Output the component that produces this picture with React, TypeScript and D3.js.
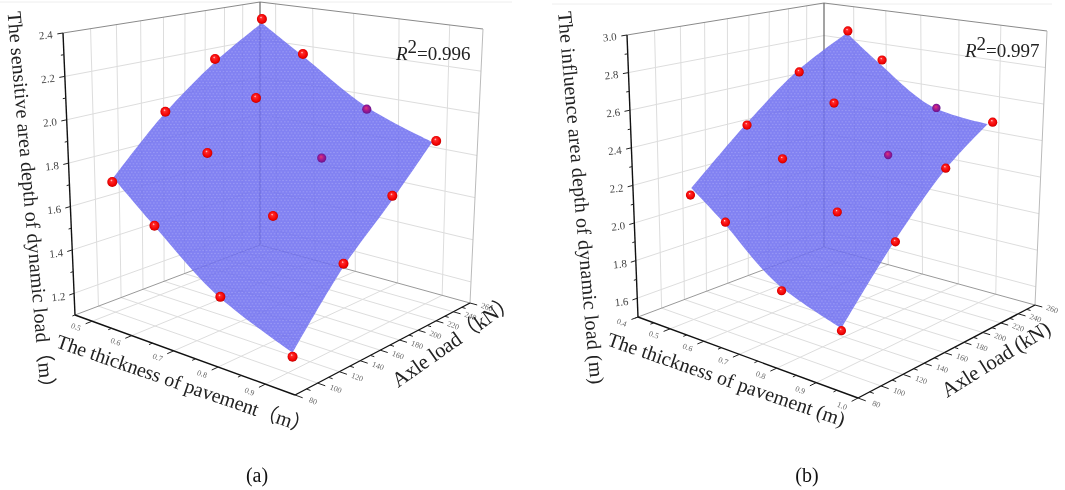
import React from 'react';
import * as d3 from 'd3';

type P = [number, number];

// ---- data ----
const thicknessValues = [0.5, 0.5, 0.5, 0.5, 0.6, 0.6, 0.6, 0.6, 0.75, 0.75, 0.75, 0.75, 0.9, 0.9, 0.9, 0.9];
const axleValuesA = [101, 147, 194, 244, 103, 150, 197, 248, 103, 151, 199, 249, 104, 150, 198, 247];
const depthValuesA = [1.702, 1.968, 2.174, 2.333, 1.549, 1.81, 2.012, 2.176, 1.32, 1.59, 1.782, 1.95, 1.159, 1.464, 1.681, 1.861];
const axleValuesB = [101, 150, 200, 253, 102, 152, 202, 255, 102, 152, 202, 256, 102, 150, 199, 252];
const depthValuesB = [2.158, 2.452, 2.681, 2.861, 2.065, 2.307, 2.536, 2.715, 1.799, 2.096, 2.309, 2.487, 1.696, 2.028, 2.313, 2.472];
const pointsUnderSurface = [10, 11];

const surfaceThickness = [0.5, 0.5, 0.5, 0.5, 0.6, 0.75, 0.9, 0.9, 0.9, 0.9, 0.75, 0.6];
const surfaceAxleA = [102, 145, 194, 244, 248, 249, 242, 198, 150, 104, 99, 101];
const surfaceDepthA = [1.719, 1.955, 2.159, 2.312, 2.166, 1.96, 1.863, 1.662, 1.45, 1.176, 1.342, 1.565];
const surfaceAxleB = [102, 150, 198, 252, 250, 250, 246, 198, 150, 102, 97, 99];
const surfaceDepthB = [2.193, 2.463, 2.689, 2.85, 2.709, 2.505, 2.471, 2.304, 2.038, 1.708, 1.855, 2.082];

const thickTicksA = [0.5, 0.6, 0.7, 0.8, 0.9];
const thickMinorA = [0.55, 0.65, 0.75, 0.85];
const thickTicksB = [0.4, 0.5, 0.6, 0.7, 0.8, 0.9, 1.0];
const thickMinorB = [0.45, 0.55, 0.65, 0.75, 0.85, 0.95];
const axleTicks = [80, 100, 120, 140, 160, 180, 200, 220, 240, 260];
const axleMinor = [90, 110, 130, 150, 170, 190, 210, 230, 250];
const depthTicksA = [1.2, 1.4, 1.6, 1.8, 2.0, 2.2, 2.4];
const depthMinorA = [1.1, 1.3, 1.5, 1.7, 1.9, 2.1, 2.3];
const depthTicksB = [1.6, 1.8, 2.0, 2.2, 2.4, 2.6, 2.8, 3.0];
const depthMinorB = [1.5, 1.7, 1.9, 2.1, 2.3, 2.5, 2.7, 2.9];

const SERIF = '"Liberation Serif","Noto Sans CJK SC",serif';

function homog(p00: P, p10: P, p11: P, p01: P) {
  const dx1 = p10[0] - p11[0], dx2 = p01[0] - p11[0], sx = p00[0] - p10[0] + p11[0] - p01[0];
  const dy1 = p10[1] - p11[1], dy2 = p01[1] - p11[1], sy = p00[1] - p10[1] + p11[1] - p01[1];
  const den = dx1 * dy2 - dx2 * dy1;
  const g = (sx * dy2 - dx2 * sy) / den, h = (dx1 * sy - sx * dy1) / den;
  const a = p10[0] - p00[0] + g * p10[0], b = p01[0] - p00[0] + h * p01[0], c = p00[0];
  const d = p10[1] - p00[1] + g * p10[1], e = p01[1] - p00[1] + h * p01[1], f = p00[1];
  return (u: number, v: number): P => {
    const w = g * u + h * v + 1;
    return [(a * u + b * v + c) / w, (d * u + e * v + f) / w];
  };
}

const Seg = ({ a, b, stroke, w = 1 }: { a: P; b: P; stroke: string; w?: number }) => (
  <line x1={a[0]} y1={a[1]} x2={b[0]} y2={b[1]} stroke={stroke} strokeWidth={w} />
);

interface Title { text: string; x: number; y: number; len: number; size: number; rot: number }
interface PanelProps {
  floor: P[]; ceil: P[];
  thickDomain: number[]; depthDomain: number[];
  thickTicks: number[]; thickMinor: number[];
  depthTicks: number[]; depthMinor: number[];
  axle: number[]; depth: number[];
  sAxle: number[]; sDepth: number[];
  r: number;
  titles: Title[];
  r2: { text: string; x: number; y: number };
  tag: { text: string; x: number };
}

function Panel(p: PanelProps) {
  const F = homog(p.floor[0], p.floor[1], p.floor[2], p.floor[3]);
  const C = homog(p.ceil[0], p.ceil[1], p.ceil[2], p.ceil[3]);
  const ts = d3.scaleLinear().domain(p.thickDomain).range([0, 1]);
  const as = d3.scaleLinear().domain([80, 260]).range([0, 1]);
  const zs = d3.scaleLinear().domain(p.depthDomain).range([0, 1]);
  const fn = (u: number, v: number, w: number): P => {
    const A = F(u, v), B = C(u, v);
    return [A[0] + (B[0] - A[0]) * w, A[1] + (B[1] - A[1]) * w];
  };
  const grid = '#dddddd';
  const pts: P[] = p.axle.map((a, i) => fn(ts(thicknessValues[i]), as(a), zs(p.depth[i])));
  const out: P[] = p.sAxle.map((a, i) => fn(ts(surfaceThickness[i]), as(a), zs(p.sDepth[i])));
  const curve = d3.line<P>().curve(d3.curveCatmullRom.alpha(0.5));
  const edges = [[0, 1, 2, 3], [3, 4, 5, 6], [6, 7, 8, 9], [9, 10, 11, 0]];
  const surface = edges.map((e, i) => {
    const s = curve(e.map(k => out[k])) as string;
    return i === 0 ? s : s.replace(/^M/, 'L');
  }).join('') + 'Z';
  return (
    <g>
      {/* wall and floor grids */}
      {axleTicks.slice(1, -1).map(a => (
        <g key={'ag' + a}>
          <Seg a={fn(0, as(a), 0)} b={fn(0, as(a), 1)} stroke={grid} />
          <Seg a={fn(0, as(a), 0)} b={fn(1, as(a), 0)} stroke={grid} />
        </g>
      ))}
      {p.thickTicks.filter(t => ts(t) > 0.01 && ts(t) < 0.99).map(t => (
        <g key={'tg' + t}>
          <Seg a={fn(ts(t), 1, 0)} b={fn(ts(t), 1, 1)} stroke={grid} />
          <Seg a={fn(ts(t), 0, 0)} b={fn(ts(t), 1, 0)} stroke={grid} />
        </g>
      ))}
      {p.depthTicks.filter(z => zs(z) < 0.99).map(z => (
        <g key={'zg' + z}>
          <Seg a={fn(0, 0, zs(z))} b={fn(0, 1, zs(z))} stroke={grid} />
          <Seg a={fn(0, 1, zs(z))} b={fn(1, 1, zs(z))} stroke={grid} />
        </g>
      ))}
      {/* frame */}
      <Seg a={fn(0, 0, 1)} b={fn(0, 1, 1)} stroke="#8a8a8a" />
      <Seg a={fn(0, 1, 1)} b={fn(1, 1, 1)} stroke="#8a8a8a" />
      <Seg a={fn(0, 1, 0)} b={fn(0, 1, 1)} stroke="#666" w={1.2} />
      <Seg a={fn(0, 0, 0)} b={fn(0, 1, 0)} stroke="#999" />
      <Seg a={fn(0, 1, 0)} b={fn(1, 1, 0)} stroke="#999" />
      <Seg a={fn(1, 1, 0)} b={fn(1, 1, 1)} stroke="#bbb" />

      {/* surface */}
      <path d={surface} fill="#6c6cf0" fillOpacity={0.86} />
      <path d={surface} fill="url(#stipple)" />
      {pointsUnderSurface.map(i => (
        <circle key={'hh' + i} cx={pts[i][0]} cy={pts[i][1]} r={p.r - 0.4} fill="url(#ballUnder)" />
      ))}

      {/* axes */}
      <Seg a={fn(0, 0, 0)} b={fn(0, 0, 1)} stroke="#111" w={1.4} />
      <Seg a={fn(0, 0, 0)} b={fn(1, 0, 0)} stroke="#111" w={1.4} />
      <Seg a={fn(1, 0, 0)} b={fn(1, 1, 0)} stroke="#111" w={1.4} />
      {p.depthTicks.map(z => (
        <g key={'zt' + z}>
          <Seg a={fn(0, 0, zs(z))} b={fn(0, -0.022, zs(z))} stroke="#222" />
          <text x={fn(0, -0.04, zs(z))[0]} y={fn(0, -0.04, zs(z))[1] + 3.5} fontSize={11} fontFamily={SERIF} fill="#444" textAnchor="end"
            transform={`rotate(-6 ${fn(0, -0.04, zs(z))[0]} ${fn(0, -0.04, zs(z))[1]})`}>{z.toFixed(1)}</text>
        </g>
      ))}
      {p.depthMinor.map(z => <Seg key={'zm' + z} a={fn(0, 0, zs(z))} b={fn(0, -0.012, zs(z))} stroke="#222" />)}
      {p.thickTicks.map(t => {
        const l = fn(ts(t), -0.075, 0);
        return (
          <g key={'tt' + t}>
            <Seg a={fn(ts(t), 0, 0)} b={fn(ts(t), -0.03, 0)} stroke="#222" />
            <text x={l[0]} y={l[1] + 2} fontSize={8} fontFamily={SERIF} fill="#666" textAnchor="middle"
              transform={`rotate(20 ${l[0]} ${l[1]})`}>{t.toFixed(1)}</text>
          </g>
        );
      })}
      {p.thickMinor.map(t => <Seg key={'tm' + t} a={fn(ts(t), 0, 0)} b={fn(ts(t), -0.016, 0)} stroke="#222" />)}
      {axleTicks.map(a => {
        const l = fn(1.07, as(a), 0);
        return (
          <g key={'at' + a}>
            <Seg a={fn(1, as(a), 0)} b={fn(1.03, as(a), 0)} stroke="#222" />
            <text x={l[0]} y={l[1] + 2} fontSize={8} fontFamily={SERIF} fill="#666" textAnchor="middle"
              transform={`rotate(20 ${l[0]} ${l[1]})`}>{a}</text>
          </g>
        );
      })}
      {axleMinor.map(a => <Seg key={'am' + a} a={fn(1, as(a), 0)} b={fn(1.016, as(a), 0)} stroke="#222" />)}

      {/* points */}
      {pts.map((q, i) => pointsUnderSurface.includes(i) ? null : (
        <circle key={'p' + i} cx={q[0]} cy={q[1]} r={p.r} fill="url(#ball)" />
      ))}

      {/* titles */}
      {p.titles.map(t => (
        <text key={t.text} x={t.x} y={t.y} fontSize={t.size} fontFamily={SERIF} fill="#222"
          textLength={t.len} lengthAdjust="spacing" transform={`rotate(${t.rot} ${t.x} ${t.y})`}>{t.text}</text>
      ))}
      <text x={p.r2.x} y={p.r2.y} fontSize={19} fontFamily={SERIF} fill="#222">
        <tspan fontStyle="italic">R</tspan>
        <tspan dy={-7}>2</tspan>
        <tspan dy={7}>{p.r2.text}</tspan>
      </text>
      <text x={p.tag.x} y={482} fontSize={20} fontFamily={SERIF} fill="#111" textAnchor="middle">{p.tag.text}</text>
    </g>
  );
}

export default function App() {
  return (
    <svg width={1065} height={490} style={{ position: 'absolute', left: 0, top: 0, background: '#fff', filter: 'blur(0.4px)' }}>
      <defs>
        <radialGradient id="ball" cx="0.5" cy="0.5" r="0.55" fx="0.4" fy="0.32">
          <stop offset="0" stopColor="#ffe0e0" />
          <stop offset="0.22" stopColor="#ff2a2a" />
          <stop offset="0.75" stopColor="#f00000" />
          <stop offset="1" stopColor="#a80000" />
        </radialGradient>
        <radialGradient id="ballUnder" cx="0.5" cy="0.5" r="0.55" fx="0.42" fy="0.35">
          <stop offset="0" stopColor="#e03a70" />
          <stop offset="0.4" stopColor="#b01c90" />
          <stop offset="1" stopColor="#5c1490" />
        </radialGradient>
        <pattern id="stipple" width={3.4} height={5.6} patternUnits="userSpaceOnUse">
          <circle cx={0.85} cy={1.4} r={0.65} fill="#fff" fillOpacity={0.28} />
          <circle cx={2.55} cy={4.2} r={0.65} fill="#fff" fillOpacity={0.28} />
        </pattern>
      </defs>
      <line x1={0} y1={2} x2={512} y2={2} stroke="#eeeeee" />
      <line x1={552} y1={4} x2={1052} y2={4} stroke="#eeeeee" />
      <Panel
        floor={[[75, 315], [295, 395], [470, 303], [260, 245]]}
        ceil={[[63, 33], [297, 85], [483, 29], [260, 2]]}
        thickDomain={[0.455, 0.96]} depthDomain={[1.1, 2.4]}
        thickTicks={thickTicksA} thickMinor={thickMinorA}
        depthTicks={depthTicksA} depthMinor={depthMinorA}
        axle={axleValuesA} depth={depthValuesA}
        sAxle={surfaceAxleA} sDepth={surfaceDepthA}
        r={5}
        titles={[
          { text: 'The sensitive area depth of dynamic load（m）', x: 7.5, y: 12, len: 388, size: 20, rot: 85 },
          { text: 'The thickness of pavement（m）', x: 55, y: 347, len: 268, size: 20, rot: 19 },
          { text: 'Axle load（kN）', x: 398, y: 388, len: 146, size: 21, rot: -35 },
        ]}
        r2={{ text: '=0.996', x: 396, y: 60 }}
        tag={{ text: '(a)', x: 257 }}
      />
      <Panel
        floor={[[638, 317], [858, 398], [1035, 305], [824, 247]]}
        ceil={[[627, 35], [860, 89], [1047, 31], [824, 3]]}
        thickDomain={[0.4, 1.0]} depthDomain={[1.5, 3.0]}
        thickTicks={thickTicksB} thickMinor={thickMinorB}
        depthTicks={depthTicksB} depthMinor={depthMinorB}
        axle={axleValuesB} depth={depthValuesB}
        sAxle={surfaceAxleB} sDepth={surfaceDepthB}
        r={4.6}
        titles={[
          { text: 'The influence area depth of dynamic load (m)', x: 558, y: 12, len: 374, size: 20, rot: 85 },
          { text: 'The thickness of pavement (m)', x: 606, y: 345, len: 250, size: 20, rot: 19 },
          { text: 'Axle load (kN)', x: 947, y: 398, len: 124, size: 21, rot: -32 },
        ]}
        r2={{ text: '=0.997', x: 965, y: 57 }}
        tag={{ text: '(b)', x: 807 }}
      />
    </svg>
  );
}
